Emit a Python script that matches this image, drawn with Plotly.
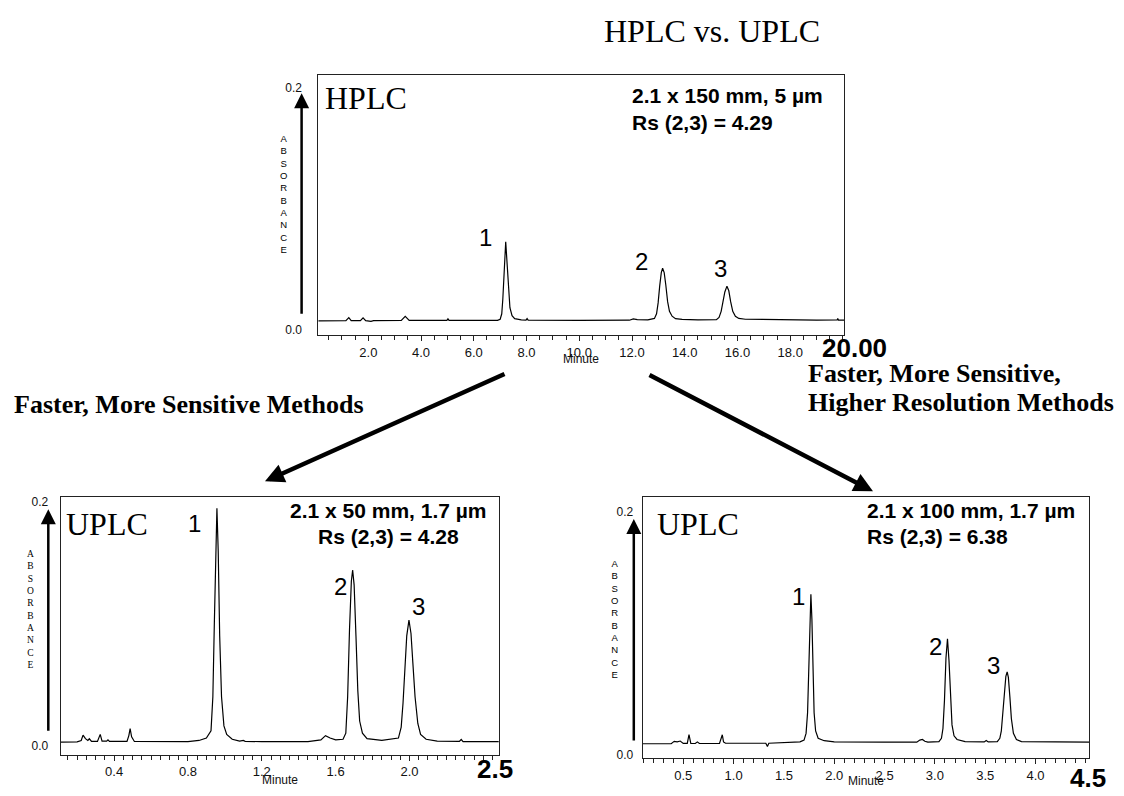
import plotly.graph_objects as go

W, H = 1124, 796

# ---------------- data ----------------
hplc_time = [0.10, 1.15, 1.26, 1.35, 1.70, 1.80, 1.90, 2.10, 2.20, 3.25, 3.40, 3.55, 4.98, 5.02, 5.06,
             6.90, 7.00, 7.06, 7.10, 7.15, 7.21, 7.27, 7.32, 7.37, 7.45, 7.55, 7.80, 7.98, 8.02, 8.06,
             10.0, 11.90, 12.05, 12.20, 12.60, 12.85, 12.93, 12.99, 13.05, 13.11, 13.16, 13.22, 13.28,
             13.35, 13.42, 13.52, 13.65, 13.90, 14.50, 15.10, 15.20, 15.30, 15.38, 15.45, 15.52, 15.60,
             15.67, 15.74, 15.82, 15.92, 16.05, 16.30, 17.00, 18.00, 19.00, 19.78, 19.80, 19.83, 20.05]
hplc_abs = [0.0072, 0.0073, 0.0098, 0.0074, 0.0074, 0.0097, 0.0073, 0.0068, 0.0073, 0.0075, 0.0108, 0.0076,
            0.0076, 0.0088, 0.0076,
            0.0076, 0.0085, 0.0130, 0.0250, 0.0500, 0.0724, 0.0520, 0.0300, 0.0180, 0.0115, 0.0090, 0.0080,
            0.0078, 0.0090, 0.0077,
            0.0076, 0.0077, 0.0088, 0.0082, 0.0080, 0.0092, 0.0130, 0.0220, 0.0360, 0.0470, 0.0506, 0.0470,
            0.0370, 0.0230, 0.0150, 0.0110, 0.0090, 0.0084, 0.0080, 0.0080, 0.0082, 0.0100, 0.0150, 0.0230,
            0.0310, 0.0358, 0.0320, 0.0230, 0.0150, 0.0110, 0.0092, 0.0085, 0.0082, 0.0080, 0.0078, 0.0079,
            0.0092, 0.0078, 0.0078]

uplc50_time = [0.11, 0.20, 0.222, 0.232, 0.245, 0.258, 0.266, 0.278, 0.31, 0.318, 0.325, 0.335, 0.36, 0.367,
               0.375, 0.47, 0.480, 0.487, 0.495, 0.51, 0.80, 0.86, 0.90, 0.925, 0.935, 0.943, 0.950, 0.957,
               0.964, 0.972, 0.982, 0.995, 1.01, 1.04, 1.08, 1.10, 1.11, 1.20, 1.45, 1.52, 1.545, 1.57, 1.60,
               1.64, 1.655, 1.665, 1.675, 1.685, 1.692, 1.700, 1.710, 1.720, 1.730, 1.745, 1.77, 1.85, 1.94,
               1.955, 1.965, 1.975, 1.985, 1.997, 2.008, 2.018, 2.030, 2.045, 2.06, 2.09, 2.15, 2.27, 2.28,
               2.29, 2.485]
uplc50_abs = [0.0027, 0.0028, 0.0040, 0.0084, 0.0055, 0.0040, 0.0054, 0.0032, 0.0032, 0.0060, 0.0090, 0.0035,
              0.0035, 0.0045, 0.0033, 0.0033, 0.0080, 0.0137, 0.0070, 0.0032, 0.0030, 0.0040, 0.0060, 0.0120,
              0.0400, 0.1000, 0.1650, 0.1950, 0.1600, 0.0900, 0.0400, 0.0160, 0.0090, 0.0050, 0.0035, 0.0040,
              0.0033, 0.0030, 0.0030, 0.0045, 0.0080, 0.0060, 0.0045, 0.0050, 0.0100, 0.0400, 0.0950, 0.1350,
              0.1442, 0.1320, 0.0900, 0.0450, 0.0200, 0.0100, 0.0055, 0.0040, 0.0060, 0.0150, 0.0350, 0.0620,
              0.0900, 0.1029, 0.0920, 0.0680, 0.0400, 0.0180, 0.0090, 0.0050, 0.0035, 0.0032, 0.0048, 0.0031,
              0.0030]

uplc100_time = [0.10, 0.38, 0.41, 0.44, 0.47, 0.50, 0.54, 0.557, 0.575, 0.62, 0.64, 0.66, 0.86, 0.875, 0.888,
                0.90, 0.92, 1.32, 1.336, 1.35, 1.66, 1.70, 1.720, 1.735, 1.748, 1.758, 1.768, 1.778, 1.790,
                1.800, 1.815, 1.84, 1.90, 2.00, 2.50, 2.82, 2.85, 2.876, 2.90, 2.93, 3.04, 3.065, 3.08, 3.095,
                3.11, 3.125, 3.14, 3.155, 3.17, 3.19, 3.22, 3.30, 3.49, 3.51, 3.53, 3.62, 3.645, 3.66, 3.675,
                3.69, 3.705, 3.718, 3.73, 3.745, 3.76, 3.78, 3.81, 3.86, 4.20, 4.534]
uplc100_abs = [0.0095, 0.0096, 0.0115, 0.0110, 0.0117, 0.0098, 0.0098, 0.0169, 0.0098, 0.0097, 0.0110, 0.0097,
               0.0098, 0.0130, 0.0169, 0.0110, 0.0099, 0.0099, 0.0073, 0.0099, 0.0110, 0.0125, 0.0180, 0.0350,
               0.0750, 0.1150, 0.1325, 0.1120, 0.0650, 0.0350, 0.0200, 0.0140, 0.0120, 0.0110, 0.0108, 0.0108,
               0.0125, 0.0130, 0.0115, 0.0108, 0.0112, 0.0140, 0.0220, 0.0450, 0.0800, 0.0958, 0.0780, 0.0450,
               0.0250, 0.0160, 0.0130, 0.0112, 0.0110, 0.0122, 0.0110, 0.0112, 0.0140, 0.0200, 0.0330, 0.0520,
               0.0650, 0.0686, 0.0640, 0.0480, 0.0300, 0.0180, 0.0130, 0.0112, 0.0108, 0.0108]

# peak labels (retention position of label, height of label)
hplc_peak_x = [6.44, 12.36, 15.37]
hplc_peak_y = [0.076, 0.056, 0.050]
uplc50_peak_x = [0.837, 1.627, 2.051]
uplc50_peak_y = [0.1823, 0.1306, 0.1143]
uplc100_peak_x = [1.641, 3.002, 3.581]
uplc100_peak_y = [0.1306, 0.0891, 0.0735]
peak_names = ["1", "2", "3"]

hplc_ticks = [2.0, 4.0, 6.0, 8.0, 10.0, 12.0, 14.0, 16.0, 18.0]
uplc50_ticks = [0.4, 0.8, 1.2, 1.6, 2.0]
uplc100_ticks = [0.5, 1.0, 1.5, 2.0, 2.5, 3.0, 3.5, 4.0]
y_ticks = [0.0, 0.2]
y_ticktext = ["0.0", "0.2"]

hplc_end, uplc50_end, uplc100_end = "20.00", "2.5", "4.5"

SANS = "Liberation Sans, Arial, sans-serif"
SERIF = "Liberation Serif, Times New Roman, serif"

def px(x):
    return x / W

def py(y):
    return 1 - y / H

fig = go.Figure()
fig.add_trace(go.Scatter(x=hplc_time, y=hplc_abs, mode="lines", line=dict(color="black", width=1.2),
                         xaxis="x", yaxis="y", hoverinfo="skip"))
fig.add_trace(go.Scatter(x=uplc50_time, y=uplc50_abs, mode="lines", line=dict(color="black", width=1.2),
                         xaxis="x2", yaxis="y2", hoverinfo="skip"))
fig.add_trace(go.Scatter(x=uplc100_time, y=uplc100_abs, mode="lines", line=dict(color="black", width=1.2),
                         xaxis="x3", yaxis="y3", hoverinfo="skip"))

def xax(domain, rng, ticks, dminor, anchor):
    return dict(domain=domain, range=rng, anchor=anchor, tickvals=ticks,
                ticktext=["%.1f" % t for t in ticks], ticks="outside", ticklen=5, tickwidth=1,
                tickcolor="#222", showline=True, linecolor="#222", linewidth=1, mirror=True,
                showgrid=False, zeroline=False, tickfont=dict(family=SANS, size=13, color="#111"),
                minor=dict(dtick=dminor, tick0=0, ticks="outside", ticklen=4, tickcolor="#222",
                           showgrid=False))

def yax(domain, rng, gap, anchor):
    return dict(domain=domain, range=rng, anchor=anchor, tickvals=y_ticks, ticktext=y_ticktext,
                ticks="outside", ticklen=gap, tickcolor="rgba(0,0,0,0)", showline=True,
                linecolor="#222", linewidth=1, mirror=True, showgrid=False, zeroline=False,
                tickfont=dict(family=SANS, size=12, color="#111"))

layout = dict(
    width=W, height=H, margin=dict(l=0, r=0, t=0, b=0),
    paper_bgcolor="white", plot_bgcolor="white", showlegend=False,
    xaxis=xax([px(318.3), px(844.3)], [0.103, 20.05], hplc_ticks, 0.5, "y"),
    yaxis=yax([py(337), py(75)], [-0.0049, 0.2098], 13, "x"),
    xaxis2=xax([px(60.7), px(498.7)], [0.111, 2.483], uplc50_ticks, 0.05, "y2"),
    yaxis2=yax([py(759.3), py(499.3)], [-0.0076, 0.2046], 9, "x2"),
    xaxis3=xax([px(642.7), px(1089.3)], [0.097, 4.534], uplc100_ticks, 0.1, "y3"),
    yaxis3=yax([py(762.7), py(499.3)], [-0.0022, 0.2128], 6, "x3"),
)
fig.update_layout(**layout)

ann = []

def text(x, y, s, size, family=SANS, bold=False, xanchor="center", xref="paper", yref="paper"):
    t = "<b>%s</b>" % s if bold else s
    ann.append(dict(x=x, y=y, xref=xref, yref=yref, text=t, showarrow=False, xanchor=xanchor,
                    yanchor="middle", font=dict(family=family, size=size, color="black")))

def arrow(tip, tail, width, size):
    ann.append(dict(x=px(tip[0]), y=py(tip[1]), xref="paper", yref="paper", text="",
                    showarrow=True, ax=tail[0] - tip[0], ay=tail[1] - tip[1], arrowhead=2,
                    arrowsize=size, arrowwidth=width, arrowcolor="black", standoff=0))

# title and method captions
text(px(712), py(30), "HPLC vs. UPLC", 32, SERIF)
text(px(12), py(407), "Faster, More Sensitive Methods", 26, SERIF, True, "left")
text(px(806), py(375), "Faster, More Sensitive,", 26, SERIF, True, "left")
text(px(806), py(405), "Higher Resolution Methods", 26, SERIF, True, "left")
arrow((265, 484), (506, 376), 4.5, 0.85)
arrow((873, 494), (648, 377), 4.5, 0.85)

# panel texts
text(px(323), py(98), "HPLC", 32, SERIF, xanchor="left")
text(px(63.8), py(527), "UPLC", 32, SERIF, xanchor="left")
text(px(654.7), py(527), "UPLC", 32, SERIF, xanchor="left")
text(px(630), py(95), "2.1 x 150 mm, 5 µm", 21, SANS, True, "left")
text(px(630), py(122), "Rs (2,3) = 4.29", 21, SANS, True, "left")
text(px(388.5), py(513), "2.1 x 50 mm, 1.7 µm", 21, SANS, True)
text(px(388.5), py(540), "Rs (2,3) = 4.28", 21, SANS, True)
text(px(865), py(513), "2.1 x 100 mm, 1.7 µm", 21, SANS, True, "left")
text(px(865), py(540), "Rs (2,3) = 6.38", 21, SANS, True, "left")

# y-axis arrows and vertical ABSORBANCE
arrow((301.6, 93), (301.6, 315), 2.5, 1.2)
arrow((48.3, 512), (48.3, 735), 2.5, 1.2)
arrow((633.8, 522), (633.8, 745), 2.5, 1.2)
absorb = "<br>".join(list("ABSORBANCE"))
text(px(284), py(194), absorb, 9.5, SANS)
text(px(30.3), py(613), absorb, 9.5, SERIF)
text(px(614.7), py(623), absorb, 9.5, SANS)

# Minute labels
ann.append(dict(x=0.5, y=py(361), xref="x domain", yref="paper", text="Minute", showarrow=False,
                yanchor="middle", font=dict(family=SANS, size=12, color="#111")))
ann.append(dict(x=0.5, y=py(785), xref="x2 domain", yref="paper", text="Minute", showarrow=False,
                yanchor="middle", font=dict(family=SANS, size=12, color="#111")))
ann.append(dict(x=0.5, y=py(786), xref="x3 domain", yref="paper", text="Minute", showarrow=False,
                yanchor="middle", font=dict(family=SANS, size=12, color="#111")))

# large end-of-axis labels
text(px(854), py(350), hplc_end, 26, SANS, True)
text(px(495), py(774), uplc50_end, 26, SANS, True)
text(px(1088), py(783), uplc100_end, 26, SANS, True)

# peak numbers
for xs, ys, xr, yr in [(hplc_peak_x, hplc_peak_y, "x", "y"),
                       (uplc50_peak_x, uplc50_peak_y, "x2", "y2"),
                       (uplc100_peak_x, uplc100_peak_y, "x3", "y3")]:
    for xv, yv, nm in zip(xs, ys, peak_names):
        text(xv, yv, nm, 24, SANS, xref=xr, yref=yr)

fig.update_layout(annotations=ann)
fig.write_html("out.html")
